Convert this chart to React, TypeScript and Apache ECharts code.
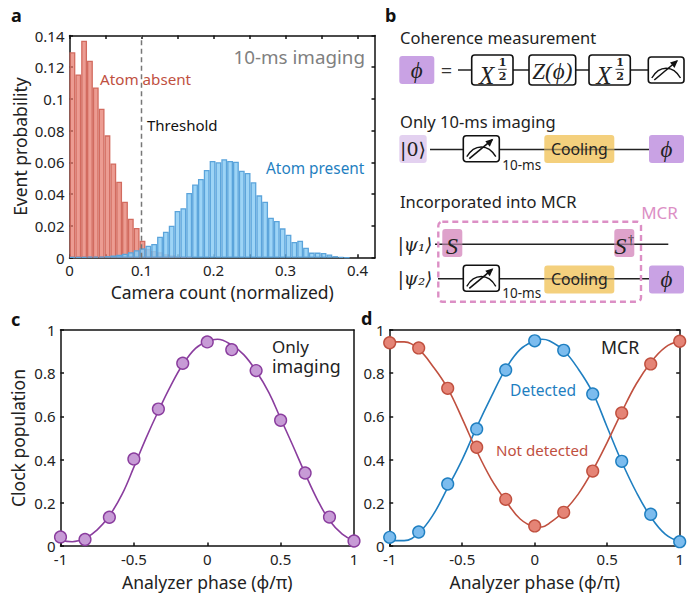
import React, { useEffect, useRef } from "react";
import * as echarts from "echarts";

const binWidth = 0.00811;
const redBins = [0.1294, 0.1155, 0.1367, 0.1241, 0.1073, 0.0939, 0.0771, 0.0594, 0.0479, 0.0353, 0.0246, 0.0187, 0.0107, 0.0055, 0.0042, 0.0034, 0.0022, 0.0015, 0.0009, 0.0005, 0.0003];
const blueBins = [0.0005, 0.0005, 0.0005, 0.0006, 0.0007, 0.0008, 0.001, 0.0014, 0.0018, 0.0025, 0.0034, 0.0047, 0.0059, 0.0076, 0.0087, 0.0132, 0.0164, 0.0201, 0.0295, 0.0312, 0.0408, 0.0461, 0.0496, 0.0553, 0.0609, 0.0601, 0.062, 0.0609, 0.0605, 0.0548, 0.0534, 0.0475, 0.0393, 0.0353, 0.0252, 0.0232, 0.0185, 0.0145, 0.0099, 0.0107, 0.0063, 0.0032, 0.0032, 0.003, 0.002, 0.001, 0.0005, 0.0002];
const thresholdX = 0.1;
const histXTicks = [0, 0.05, 0.1, 0.15, 0.2, 0.25, 0.3, 0.35, 0.4];
const histXLabels = [0, 0.1, 0.2, 0.3, 0.4];
const histYTicks = [0, 0.02, 0.04, 0.06, 0.08, 0.1, 0.12, 0.14];

const phaseTicks = [-1, -0.5, 0, 0.5, 1];
const popTicks = [0, 0.2, 0.4, 0.6, 0.8, 1];

const cPointX = [-1, -0.833, -0.667, -0.5, -0.333, -0.167, 0, 0.167, 0.333, 0.5, 0.667, 0.833, 1];
const cPointY = [0.042, 0.03, 0.133, 0.403, 0.634, 0.846, 0.945, 0.909, 0.812, 0.582, 0.338, 0.134, 0.023];
const cCurveX = [-1, -0.92, -0.83, -0.75, -0.667, -0.58, -0.5, -0.42, -0.333, -0.25, -0.167, -0.08, 0, 0.07, 0.167, 0.25, 0.333, 0.42, 0.5, 0.58, 0.667, 0.75, 0.833, 0.92, 1];
const cCurveY = [0.026, 0.02, 0.037, 0.075, 0.14, 0.24, 0.365, 0.495, 0.625, 0.74, 0.84, 0.915, 0.948, 0.957, 0.93, 0.885, 0.81, 0.71, 0.59, 0.47, 0.335, 0.215, 0.118, 0.055, 0.024];

const dPointX = [-1, -0.8, -0.6, -0.4, -0.2, 0, 0.2, 0.4, 0.6, 0.8, 1];
const detectedY = [0.04, 0.065, 0.287, 0.542, 0.815, 0.95, 0.906, 0.704, 0.392, 0.147, 0.02];
const notDetectedY = [0.941, 0.917, 0.73, 0.457, 0.216, 0.093, 0.156, 0.347, 0.616, 0.843, 0.948];
const dCurveX = [-1, -0.9, -0.8, -0.7, -0.6, -0.5, -0.4, -0.3, -0.2, -0.1, 0, 0.05, 0.1, 0.2, 0.3, 0.4, 0.5, 0.6, 0.7, 0.8, 0.9, 1];
const detectedCurve = [0.025, 0.025, 0.06, 0.145, 0.27, 0.4, 0.55, 0.69, 0.82, 0.91, 0.95, 0.957, 0.95, 0.905, 0.82, 0.71, 0.55, 0.39, 0.25, 0.135, 0.055, 0.02];
const notDetectedCurve = [0.945, 0.945, 0.91, 0.83, 0.73, 0.59, 0.44, 0.31, 0.21, 0.125, 0.09, 0.088, 0.105, 0.16, 0.24, 0.35, 0.48, 0.62, 0.75, 0.85, 0.92, 0.95];

const xTitleA = "Camera count (normalized)";
const yTitleA = "Event probability";
const xTitlePhase = "Analyzer phase (φ/π)";
const yTitleC = "Clock population";

const FONT = '"Noto Sans", sans-serif';
const SERIF = '"Liberation Serif", "DejaVu Serif", serif';
const PURPLE = "#8a3d9e";
const BLUE = "#1f7fc1";
const RED = "#c0503f";
const PINK = "#dc8fc5";
const PHI = "#c9a2e4";
const COOL = "#f4d07d";

const zip = (xs: number[], ys: number[]) => xs.map((x, i) => [x, ys[i]]);

function axisPair(gridIndex: number, dim: "x" | "y", min: number, max: number, ticks: number[], labels: number[], name: string, nameGap: number, mirrorTicks: boolean) {
  const line = { show: true, onZero: false, lineStyle: { color: "#111", width: 1.5 } };
  const main = {
    type: "value", gridIndex, min, max, position: dim === "x" ? "bottom" : "left",
    name, nameLocation: "middle", nameGap,
    nameTextStyle: { fontFamily: FONT, fontSize: 17.5, color: "#222" },
    splitLine: { show: false }, axisLine: line,
    axisTick: { show: true, inside: true, length: 3.5, customValues: ticks, lineStyle: { color: "#111", width: 1.5 } },
    axisLabel: { show: true, customValues: labels, margin: 5, fontFamily: FONT, fontSize: 15, color: "#222" },
  };
  const mirror = {
    type: "value", gridIndex, min, max, position: dim === "x" ? "top" : "right",
    splitLine: { show: false }, axisLine: line, axisLabel: { show: false },
    axisTick: { show: mirrorTicks, inside: true, length: 3.5, customValues: ticks, lineStyle: { color: "#111", width: 1.5 } },
  };
  return [main, mirror];
}

function txt(text: string, x: number, y: number, fontSize: number, fill: string, align = "left", extra: any = {}) {
  return { type: "text", x, y, z: 50, silent: true, style: { text, fontSize, fill, fontFamily: FONT, align, verticalAlign: "middle", ...extra } };
}
function rect(x: number, y: number, w: number, h: number, fill: string, stroke?: string, lineWidth = 1.6, r = 3, z = 40) {
  return { type: "rect", z, silent: true, shape: { x, y, width: w, height: h, r }, style: { fill, stroke, lineWidth } };
}
function wire(x1: number, x2: number, y: number) {
  return { type: "line", z: 39, silent: true, shape: { x1, y1: y, x2, y2: y }, style: { stroke: "#222", lineWidth: 1.5 } };
}
function wireOver(x1: number, x2: number, y: number) {
  return { type: "line", z: 45, silent: true, shape: { x1, y1: y, x2, y2: y }, style: { stroke: "#222", lineWidth: 1.5, opacity: 0.45 } };
}
function meter(x: number, y: number, w: number, h: number) {
  return [
    rect(x, y, w, h, "#fff", "#111"),
    { type: "bezierCurve", z: 46, silent: true, shape: { x1: x + 3.5, y1: y + h - 5, cpx1: x + 11, cpy1: y + h - 18, cpx2: x + w - 11, cpy2: y + h - 18, x2: x + w - 3.5, y2: y + h - 5 }, style: { stroke: "#111", lineWidth: 1.4, fill: "none" } },
    { type: "line", z: 46, silent: true, shape: { x1: x + 6, y1: y + h - 3, x2: x + w - 7, y2: y + 4 }, style: { stroke: "#111", lineWidth: 1.6 } },
    { type: "polygon", z: 46, silent: true, shape: { points: [[x + w - 6, y + 3], [x + w - 14, y + 5.5], [x + w - 9.5, y + 11]] }, style: { fill: "#111" } },
  ];
}
function half(x: number, y: number) {
  return [
    txt("X", x + 15, y + 5, 25, "#222", "center", { fontFamily: SERIF, fontStyle: "italic" }),
    txt("1", x + 31, y - 8, 11, "#222", "center", { fontFamily: '"DejaVu Serif", serif', fontWeight: "bold" }),
    { type: "line", z: 46, silent: true, shape: { x1: x + 26.5, y1: y - 0.7, x2: x + 35, y2: y - 0.7 }, style: { stroke: "#222", lineWidth: 0.9 } },
    txt("2", x + 31, y + 6, 11, "#222", "center", { fontFamily: '"DejaVu Serif", serif', fontWeight: "bold" }),
  ];
}
function phi(x: number, y: number, w: number, h: number) {
  return [rect(x, y, w, h, PHI), txt("ϕ", x + w / 2, y + h / 2, 23, "#222", "center", { fontFamily: SERIF, fontStyle: "italic" })];
}

function graphics() {
  return [
    txt("a", 11, 15, 18, "#111", "left", { fontWeight: "bold" }),
    txt("b", 385, 15, 18, "#111", "left", { fontWeight: "bold" }),
    txt("c", 11, 319, 18, "#111", "left", { fontWeight: "bold" }),
    txt("d", 361, 318, 18, "#111", "left", { fontWeight: "bold" }),

    txt("10-ms imaging", 365, 57, 18.8, "#808080", "right"),
    txt("Atom absent", 100, 79, 15.2, RED),
    txt("Threshold", 147, 125, 15, "#111"),
    txt("Atom present", 266, 168, 15.4, BLUE),
    txt("Only", 272, 346, 17, "#222", "left", { lineHeight: 18 }),
    txt("imaging", 272, 366, 17.8, "#222", "left", { lineHeight: 18 }),
    txt("MCR", 601, 347, 17.7, "#222"),
    txt("Detected", 510, 390, 15.6, BLUE),
    txt("Not detected", 496, 450, 15.1, RED),

    txt("Coherence measurement", 400, 37, 16.5, "#222"),
    ...phi(399.3, 56, 35, 28),
    txt("=", 446.5, 70, 20, "#333", "center"),
    wire(458, 648.5, 70),
    rect(471.7, 55, 41.3, 30, "#fff", "#111"),
    ...half(471.7, 70),
    rect(529, 55, 46.7, 30, "#fff", "#111"),
    txt("Z(ϕ)", 552.3, 71, 23, "#222", "center", { fontFamily: SERIF, fontStyle: "italic" }),
    rect(589, 55, 41.3, 30, "#fff", "#111"),
    ...half(589, 70),
    ...meter(648.3, 57, 35.7, 26),

    txt("Only 10-ms imaging", 400, 121, 16.5, "#222"),
    rect(399.3, 135, 27.4, 28, "#e3d1f0"),
    txt("|0⟩", 413, 149, 19, "#222", "center", { fontFamily: '"DejaVu Serif", serif' }),
    wire(430, 649, 149.5),
    ...meter(463.3, 135.7, 36, 26),
    rect(544.3, 135, 70, 28, COOL, undefined, 0, 3, 42),
    wireOver(544.3, 614.3, 149.5),
    txt("Cooling", 579.3, 149, 15.8, "#222", "center"),
    ...phi(649, 135, 35, 28),
    txt("10-ms", 521.7, 165, 13.5, "#222", "center"),

    txt("Incorporated into MCR", 400, 201, 16.5, "#222"),
    txt("MCR", 659.5, 212, 17, PINK, "center"),
    { type: "rect", z: 47, silent: true, shape: { x: 438.3, y: 221.7, width: 202.7, height: 80, r: 4 }, style: { fill: "none", stroke: PINK, lineWidth: 2.4, lineDash: [6, 4] } },
    txt("|ψ₁⟩", 415, 244.5, 18, "#222", "center", { fontFamily: '"DejaVu Serif", serif', fontStyle: "italic" }),
    txt("|ψ₂⟩", 415, 278.5, 18, "#222", "center", { fontFamily: '"DejaVu Serif", serif', fontStyle: "italic" }),
    wire(435, 668.3, 244.3),
    rect(442.3, 229, 20, 28, "#dea2cb"),
    rect(614.3, 229, 20, 28, "#dea2cb"),
    wireOver(442.3, 462.3, 244.3),
    wireOver(614.3, 634.3, 244.3),
    txt("S", 452, 246, 24, "#222", "center", { fontFamily: SERIF, fontStyle: "italic" }),
    txt("S", 620.5, 246, 24, "#222", "center", { fontFamily: SERIF, fontStyle: "italic" }),
    txt("†", 631, 240, 12, "#222", "center", { fontFamily: SERIF }),
    wire(438, 649, 278.7),
    ...meter(463.3, 265.3, 36, 26),
    rect(544.3, 265.5, 70, 28, COOL, undefined, 0, 3, 42),
    wireOver(544.3, 614.3, 278.7),
    txt("Cooling", 579.3, 279, 15.8, "#222", "center"),
    ...phi(649, 265.5, 35, 28),
    txt("10-ms", 521.7, 293, 13.5, "#222", "center"),
  ];
}

function histBars(values: number[], fill: string, stroke: string, z: number) {
  return {
    type: "bar", xAxisIndex: 0, yAxisIndex: 0, barWidth: 5.84, barGap: "-100%", z, silent: true, clip: false,
    itemStyle: { color: fill, borderColor: stroke, borderWidth: 1.3 },
    data: values.map((v, i) => [binWidth * (i + 0.5), v]),
  };
}
function curve(xIdx: number, yIdx: number, xs: number[], ys: number[], color: string) {
  return { type: "line", xAxisIndex: xIdx, yAxisIndex: yIdx, smooth: 0.4, showSymbol: false, clip: false, silent: true, z: 3, lineStyle: { color, width: 1.6 }, data: zip(xs, ys) };
}
function dots(xIdx: number, yIdx: number, xs: number[], ys: number[], fill: string, stroke: string) {
  return { type: "scatter", xAxisIndex: xIdx, yAxisIndex: yIdx, symbolSize: 11.8, clip: false, silent: true, z: 4, itemStyle: { color: fill, borderColor: stroke, borderWidth: 1.4, opacity: 1 }, data: zip(xs, ys) };
}

export default function App() {
  const ref = useRef<HTMLDivElement>(null);
  useEffect(() => {
    const chart = echarts.init(ref.current!, undefined, { renderer: "svg" });
    const [ax, ax2] = axisPair(0, "x", 0, 0.4243, histXTicks, histXLabels, xTitleA, 25, true);
    const [ay, ay2] = axisPair(0, "y", 0, 0.14, histYTicks, histYTicks, yTitleA, 41, true);
    const [cx, cx2] = axisPair(1, "x", -1, 1, phaseTicks, phaseTicks, xTitlePhase, 27, false);
    const [cy, cy2] = axisPair(1, "y", 0, 1, popTicks, popTicks, yTitleC, 34, false);
    const [dx, dx2] = axisPair(2, "x", -1, 1, phaseTicks, phaseTicks, xTitlePhase, 27, false);
    const [dy, dy2] = axisPair(2, "y", 0, 1, popTicks, popTicks, "", 0, true);
    chart.setOption({
      animation: false,
      grid: [
        { left: 69.5, top: 35.5, width: 305.5, height: 222.2 },
        { left: 60.5, top: 330, width: 293.5, height: 216 },
        { left: 389.7, top: 330, width: 293.6, height: 216 },
      ],
      xAxis: [ax, ax2, cx, cx2, dx, dx2],
      yAxis: [ay, ay2, cy, cy2, dy, dy2],
      series: [
        histBars(redBins, "rgba(228,118,104,0.72)", "#d26b5f", 2),
        histBars(blueBins, "rgba(140,205,245,0.85)", "#5ba4db", 3),
        { type: "line", xAxisIndex: 0, yAxisIndex: 0, showSymbol: false, silent: true, z: 4, lineStyle: { color: "#777", width: 1.5, type: [5, 3.5] }, data: [[thresholdX, 0], [thresholdX, 0.14]] },
        curve(2, 2, cCurveX, cCurveY, PURPLE),
        dots(2, 2, cPointX, cPointY, "#c79bd6", PURPLE),
        curve(4, 4, dCurveX, detectedCurve, BLUE),
        curve(4, 4, dCurveX, notDetectedCurve, RED),
        dots(4, 4, dPointX, detectedY, "#7cbcee", BLUE),
        dots(4, 4, dPointX, notDetectedY, "#e58476", RED),
      ],
      graphic: { elements: graphics() },
    });
    return () => chart.dispose();
  }, []);
  return <div ref={ref} style={{ position: "absolute", left: 0, top: 0, width: 687, height: 600, background: "#fff" }} />;
}
